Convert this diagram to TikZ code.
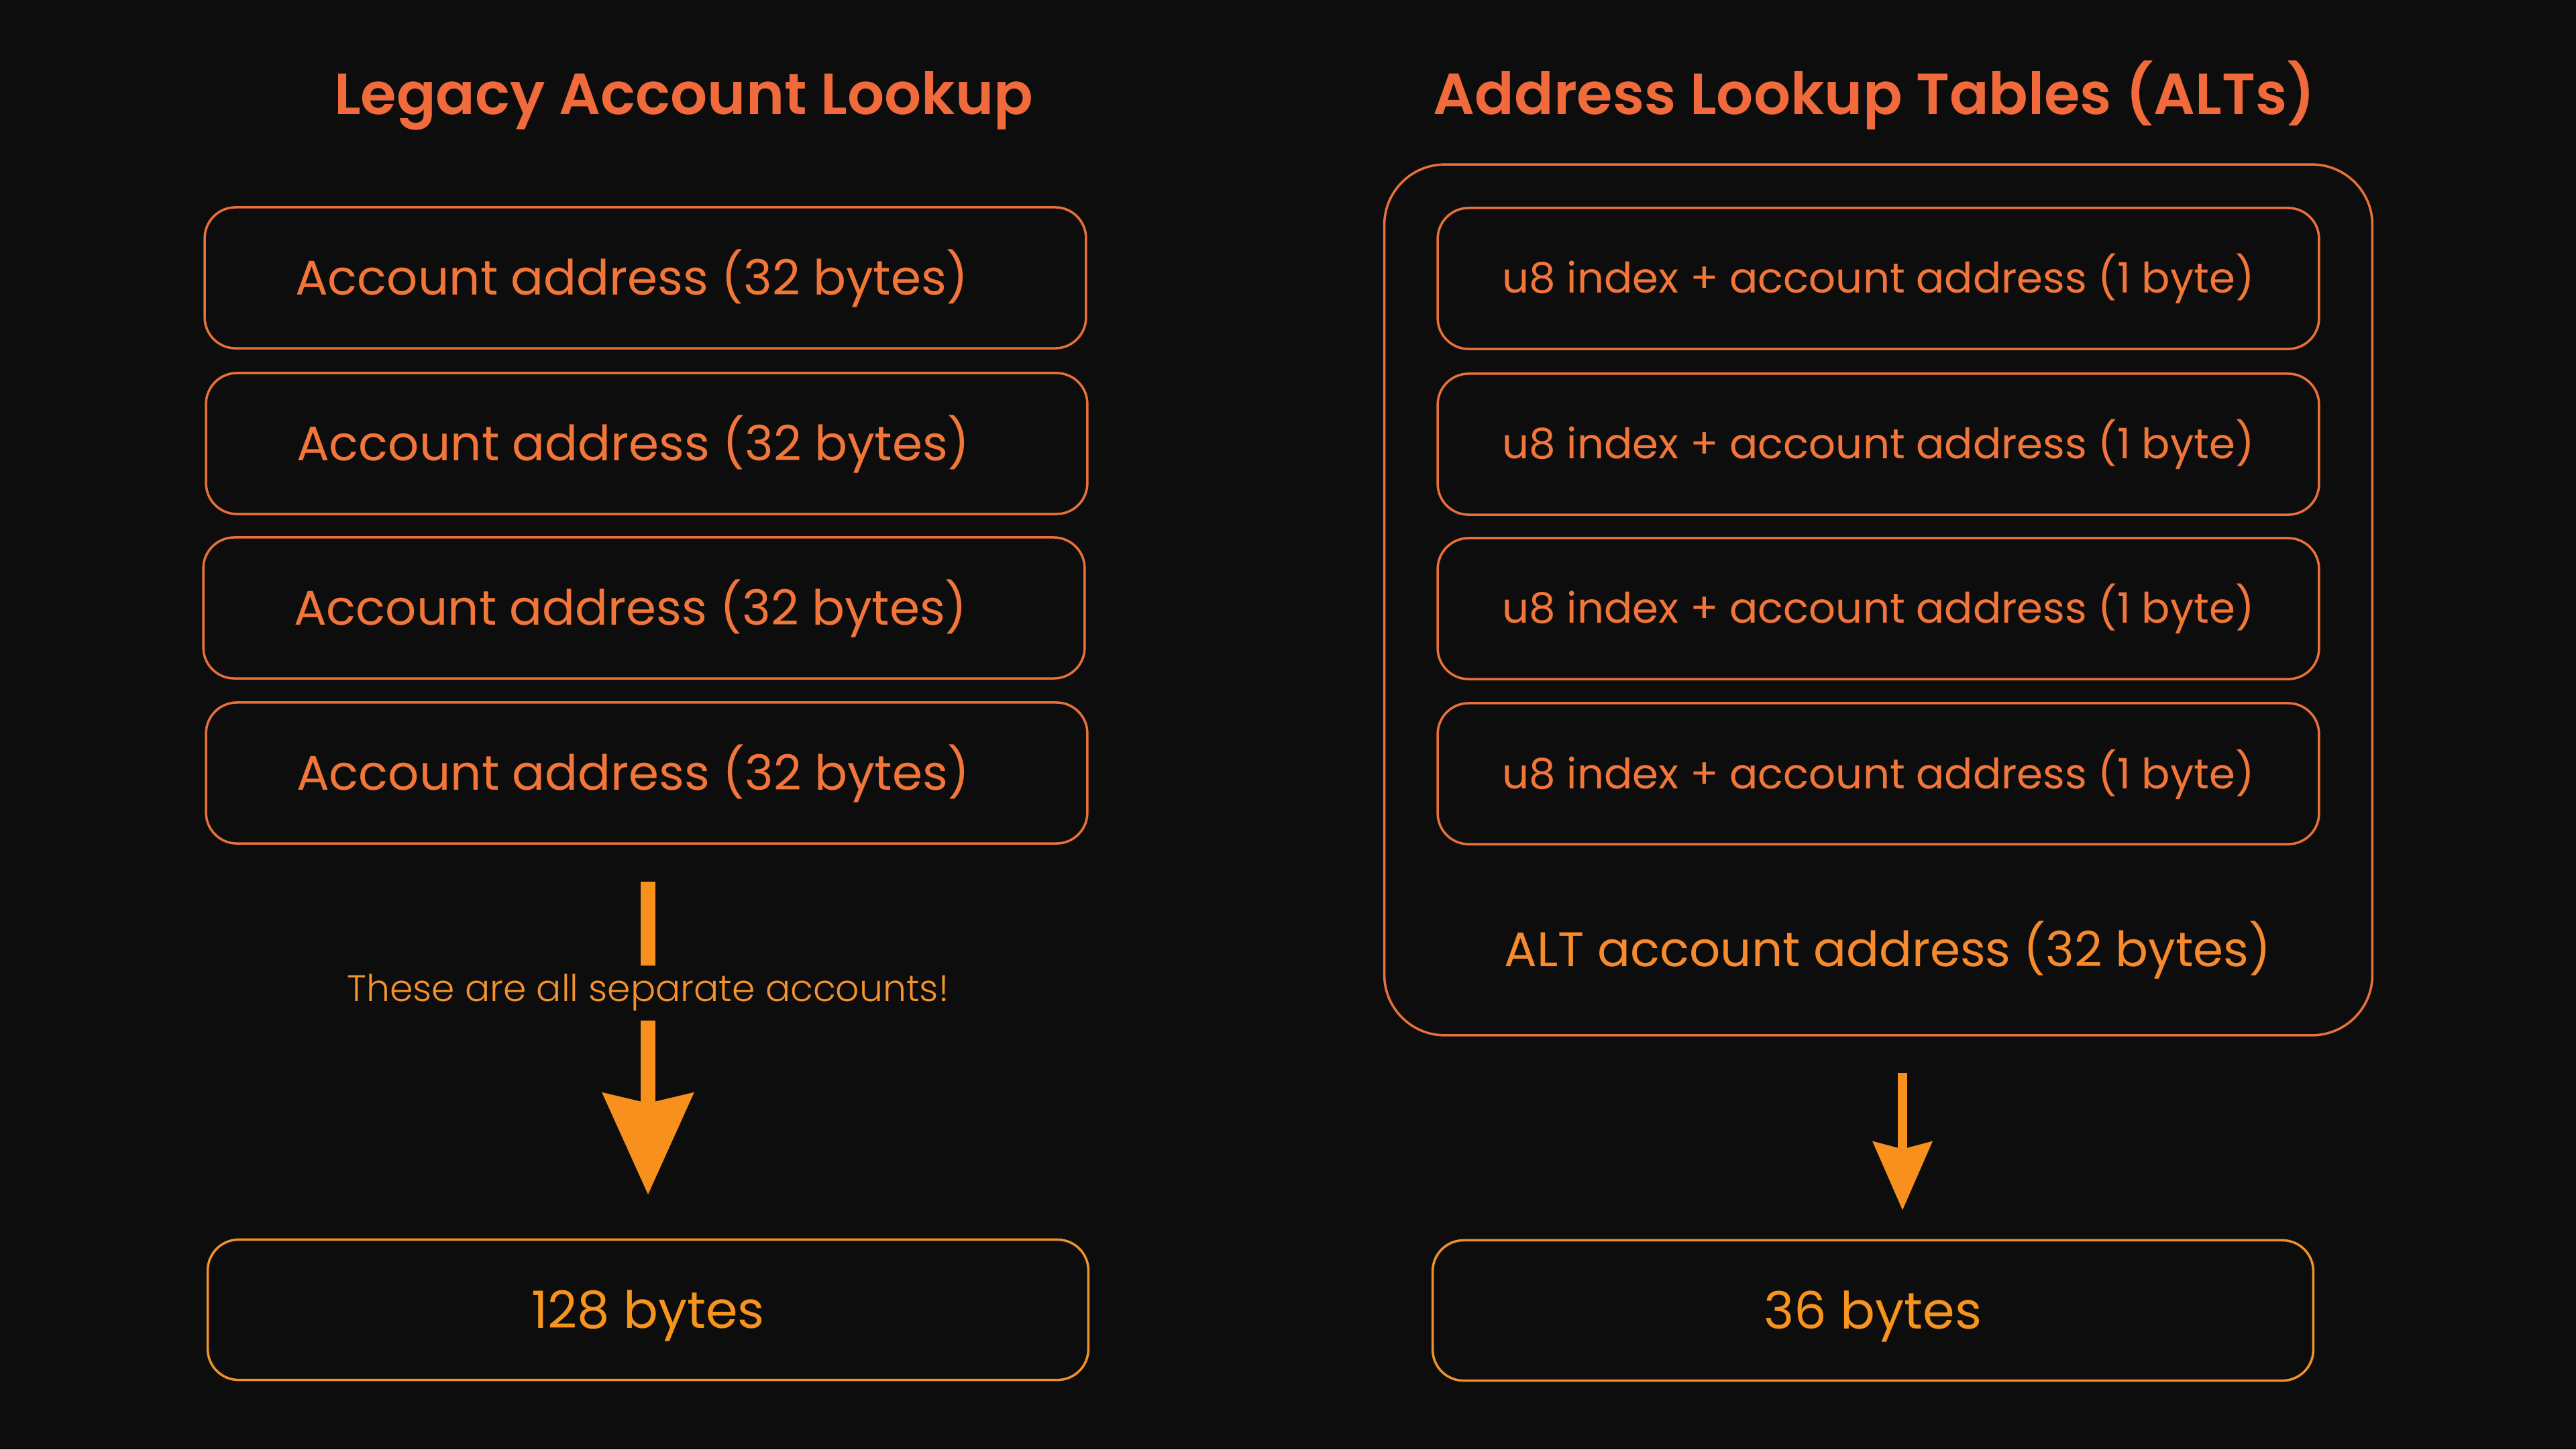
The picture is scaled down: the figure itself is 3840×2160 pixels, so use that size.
\documentclass[tikz,border=0pt]{standalone}
\usepackage{fontspec}
\setmainfont{Poppins}[BoldFont={Poppins SemiBold}]
\newfontfamily\lightfont{Poppins Light}
\usetikzlibrary{arrows.meta}
\definecolor{bg}{HTML}{0D0D0D}
\definecolor{titlec}{HTML}{F06A3C}
\definecolor{boxc}{HTML}{E8703A}
\definecolor{boxt}{HTML}{F2763A}
\definecolor{altt}{HTML}{F68A2E}
\definecolor{arrc}{HTML}{F8901E}
\definecolor{botc}{HTML}{F0922A}
\definecolor{bott}{HTML}{F7941D}
\definecolor{sept}{HTML}{F3922E}
\tikzset{
  titlenode/.style={text=titlec, font=\bfseries\fontsize{24.6}{30}\selectfont, anchor=base, inner sep=0},
  acct/.style={draw=boxc, line width=1pt, rounded corners=0.46cm, minimum width=13.13cm, minimum height=2.1cm,
    text=boxt, font=\fontsize{20.6}{25}\selectfont, text height=14.5pt, text depth=0pt, inner sep=0},
  idx/.style={acct, font=\fontsize{17.8}{22}\selectfont, text height=12.5pt},
  outerbox/.style={draw=boxc, line width=1pt, rounded corners=0.9cm, minimum width=14.72cm, minimum height=12.97cm, inner sep=0},
  alttext/.style={text=altt, font=\fontsize{20.6}{25}\selectfont, text height=14.5pt, text depth=0pt, inner sep=0},
  total/.style={draw=botc, line width=1pt, rounded corners=0.46cm, minimum width=13.12cm, minimum height=2.09cm,
    text=bott, font=\fontsize{21.8}{27}\selectfont, text height=15.5pt, text depth=0pt, inner sep=0},
  septext/.style={text=sept, font=\lightfont\fontsize{15.7}{19}\selectfont, minimum height=0.81cm, inner sep=0,
    text height=0.46cm, text depth=0.22cm},
  bigshaft/.style={draw=arrc, line width=6.2pt},
  smallshaft/.style={draw=arrc, line width=4pt}
}
\begin{document}
\begin{tikzpicture}[x=0.01cm,y=-0.01cm]
\fill[bg] (0,0) rectangle (3840,2160);
\useasboundingbox (0,0) rectangle (3840,2160);

% titles
\node[titlenode] (t1) at (1019,170) {Legacy Account Lookup};
\node[titlenode] (t2) at (2794,170) {Address Lookup Tables (ALTs)};

% legacy column
\node[acct] (a1) at (962,414) {Account address (32 bytes)\kern0.4cm};
\node[acct] (a2) at (964,661) {Account address (32 bytes)\kern0.4cm};
\node[acct] (a3) at (960,906) {Account address (32 bytes)\kern0.4cm};
\node[acct] (a4) at (964,1152) {Account address (32 bytes)\kern0.4cm};

\node[septext] (sep) at (966,1480) {These are all separate accounts!};
\node[total] (b128) at (966,1952) {128 bytes};

\draw[bigshaft, shorten <=0.55cm] (a4.south -| sep) -- (sep.north);
\draw[bigshaft, shorten >=0.65cm, -{Stealth[length=42.8pt, width=37.7pt, inset=4pt]}] (sep.south) -- (b128.north);

% ALT column
\node[outerbox] (alt) at (2800,894) {};
\node[idx] (u1) at (2800,415) {u8 index + account address (1 byte)};
\node[idx] (u2) at (2800,662) {u8 index + account address (1 byte)};
\node[idx] (u3) at (2800,907) {u8 index + account address (1 byte)};
\node[idx] (u4) at (2800,1153) {u8 index + account address (1 byte)};
\node[alttext] (altlabel) at (2814,1415) {ALT account address (32 bytes)};

\node[total] (b36) at (2792,1953) {36 bytes};
\coordinate (rx) at (2836,1700);
\draw[smallshaft, shorten <=0.54cm, shorten >=0.43cm, -{Stealth[length=28.9pt, width=24.7pt, inset=3pt]}] (alt.south -| rx) -- (b36.north -| rx);
\end{tikzpicture}
\end{document}
